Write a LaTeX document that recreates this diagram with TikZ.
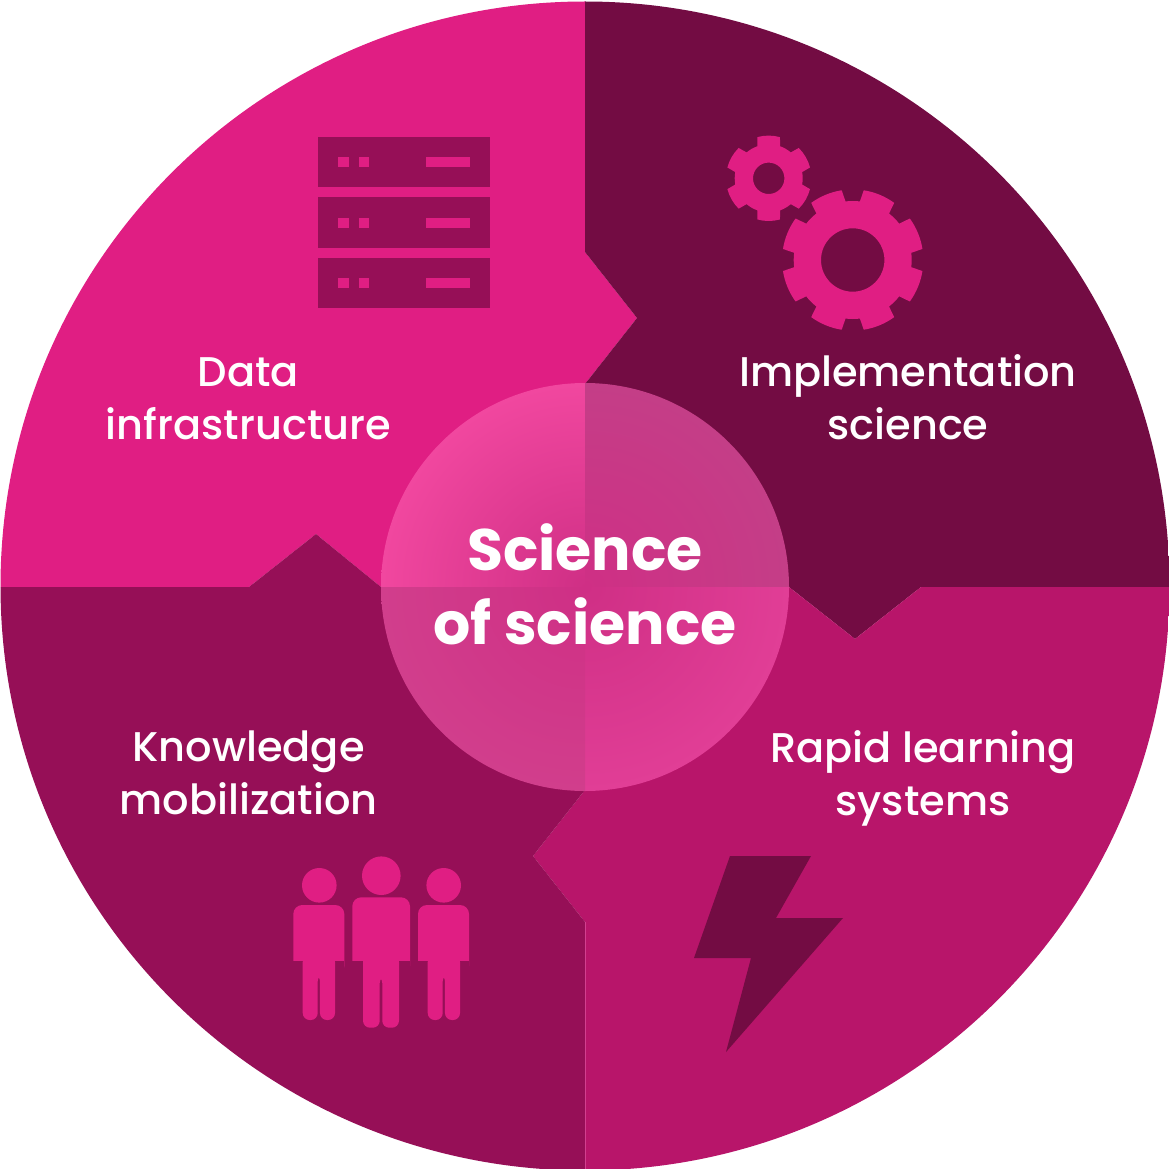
\documentclass[tikz,border=0pt]{standalone}
\usepackage{fontspec}
\setmainfont{Poppins}
\newfontfamily\labelfont{Poppins Medium}
\definecolor{qTL}{HTML}{E01E83}
\definecolor{qTR}{HTML}{730C43}
\definecolor{qBR}{HTML}{B8156A}
\definecolor{qBL}{HTML}{960F57}
\definecolor{seam}{HTML}{D2408F}
\definecolor{hubC}{HTML}{CF2F85}
\definecolor{hubTL}{HTML}{F1479F}
\definecolor{hubTR}{HTML}{C43E87}
\definecolor{hubBR}{HTML}{E13E96}
\definecolor{hubBL}{HTML}{D13E8C}
\tikzset{
  label text/.style={text=white,align=center,font=\labelfont\fontsize{41.5}{53}\selectfont,inner sep=0pt},
  hub text/.style={text=white,align=center,font=\fontsize{58.5}{74}\selectfont\bfseries,inner sep=0pt},
  limb/.style={fill=qTL,rounded corners=7pt},
}
% hub quadrant: clip path (y up, origin at hub centre), edge colour
\newcommand{\hubq}[2]{\begin{scope}\clip #1;\shade[inner color=hubC,outer color=#2] (0,0) circle (204);\end{scope}}
\newcommand{\person}[9]{%
  \fill[qTL] (#1,#2) circle (#3);
  \fill[qTL,rounded corners=9pt] (#4,975) -- (#4,#6) -- (#5,#6) -- (#5,975) -- cycle;
  \fill[qBL] (#4,961) rectangle (#5,985);
  \fill[limb] (#7,955) -- (#8,955) -- (#8,#9) -- ({#7+(#8-#7)*0.535},#9) -- ({#7+(#8-#7)*0.535},\gaptop) -- ({#7+(#8-#7)*0.465},\gaptop) -- ({#7+(#8-#7)*0.465},#9) -- (#7,#9) -- cycle;
  \fill[qTL] (#7,950) rectangle (#8,965);
}
\begin{document}
\begin{tikzpicture}[x=1pt,y=-1pt]
\useasboundingbox (0,0) rectangle (1169,1169);
\begin{scope}
  \clip (585,586) circle (584.5);
  \fill[qTL] (-5,-5) -- (585,-5) -- (585,252) -- (637,318) -- (585,384) -- (585,587) -- (381,587) -- (316,534) -- (249,587) -- (-5,587) -- cycle;
  \fill[qTR] (585,-5) -- (1175,-5) -- (1175,587) -- (921,587) -- (855,639) -- (789,587) -- (585,587) -- (585,384) -- (637,318) -- (585,252) -- cycle;
  \fill[qBR] (1175,587) -- (1175,1175) -- (585,1175) -- (585,922) -- (533,856) -- (585,790) -- (585,587) -- (789,587) -- (855,639) -- (921,587) -- cycle;
  \fill[qBL] (-5,587) -- (249,587) -- (316,534) -- (381,587) -- (585,587) -- (585,790) -- (533,856) -- (585,922) -- (585,1175) -- (-5,1175) -- cycle;
  \draw[seam,line width=0.8pt] (585,922) -- (585,1175);
\end{scope}
% hub
\begin{scope}[shift={(585,587)},y=1pt]
\hubq{(0,0) -- (180:204) arc[start angle=180,end angle=90,radius=204] -- cycle}{hubTL}
\hubq{(0,0) -- (90:204) arc[start angle=90,end angle=0,radius=204] -- cycle}{hubTR}
\hubq{(0,0) -- (0:204) arc[start angle=0,end angle=-90,radius=204] -- cycle}{hubBR}
\hubq{(0,0) -- (-90:204) arc[start angle=-90,end angle=-180,radius=204] -- cycle}{hubBL}
\end{scope}
% server
\foreach \t/\b/\st in {137/187/157,197/248/218,258/308/278}{
  \fill[qBL] (318,\t) rectangle (490,\b);
  \fill[qTL] (338,\st) rectangle ++(10.5,10);
  \fill[qTL] (358.5,\st) rectangle ++(10.5,10);
  \fill[qTL] (426,\st) rectangle ++(44,10);
}
% gears
\begin{scope}[shift={(852.7,260)},y=1pt]
  \fill[qTL,even odd rule] (7:59)
    \foreach \a in {0,45,...,315}{
      -- ({\a+9}:70.6) arc[start angle=\a+9,end angle=\a+36,radius=70.6]
      -- ({\a+38}:59) arc[start angle=\a+38,end angle=\a+52,radius=59]
    } -- cycle (0,0) circle (31.7);
\end{scope}
\begin{scope}[shift={(768.7,178.3)},y=1pt]
  \fill[qTL,even odd rule] (10.5:34)
    \foreach \a in {0,60,...,300}{
      -- ({\a+14.7}:42.7) arc[start angle=\a+14.7,end angle=\a+45.3,radius=42.7]
      -- ({\a+49.5}:34) arc[start angle=\a+49.5,end angle=\a+70.5,radius=34]
    } -- cycle (0,0) circle (15.7);
\end{scope}
% lightning
\fill[qTR] (730,856) -- (811,856) -- (776,918) -- (843,918) -- (726,1052) -- (751,958) -- (694,958) -- cycle;
% people
\def\gaptop{974.3}
\person{319.3}{885.3}{17.3}{293.3}{344.3}{905}{302.7}{335}{1020}
\person{443.7}{885.3}{17.3}{418}{469}{905}{427.7}{460}{1020}
\def\gaptop{976}
\person{381.3}{875.7}{19.3}{352.3}{410}{897.3}{363}{399}{1027.7}
% labels
\node[label text] (data) at (248.5,398.5) {Data\\infrastructure};
\node[label text] (impl) at (908,397) {Implementation\\science};
\node[label text] (know) at (248.5,773) {Knowledge\\mobilization};
\node[label text] (rapid) at (923,778) {Rapid learning\\systems};
\node[hub text] (hub) at (585,584.5) {Science\\of science};
\end{tikzpicture}
\end{document}
